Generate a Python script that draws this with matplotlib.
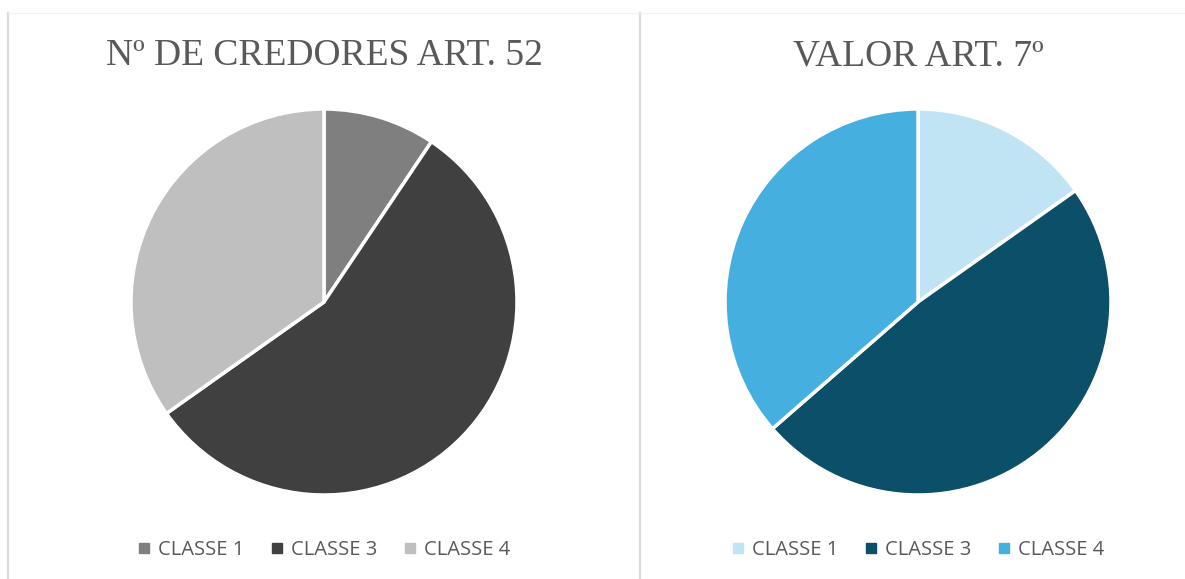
import matplotlib.pyplot as plt
from matplotlib.lines import Line2D

# dados
classes = ["CLASSE 1", "CLASSE 3", "CLASSE 4"]
credores = [9.4, 55.8, 34.8]
valor = [15.2, 48.4, 36.4]

cores_credores = ["#7f7f7f", "#404040", "#bfbfbf"]
cores_valor = ["#c1e4f5", "#0b4f69", "#45afe0"]

W, H = 1185, 579
fig = plt.figure(figsize=(W / 100, H / 100), dpi=100)
fig.patch.set_facecolor("white")

# linhas de separação
for x in [8, 640]:
    fig.add_artist(Line2D([x / W, x / W], [0, 1 - 13 / H], color="#d9d9d9", lw=1.6))
fig.add_artist(Line2D([8 / W, 1], [1 - 13 / H, 1 - 13 / H], color="#f2f2f2", lw=0.8))


def pizza(cx, titulo, valores, cores):
    cy, r = 302, 193
    ax = fig.add_axes([(cx - r) / W, 1 - (cy + r) / H, 2 * r / W, 2 * r / H])
    ax.pie(valores, colors=cores, startangle=90, counterclock=False, radius=1,
           wedgeprops=dict(edgecolor="white", linewidth=2.5))
    ax.set_xlim(-1, 1)
    ax.set_ylim(-1, 1)
    ax.set_aspect("equal")
    ax.axis("off")
    fig.text(cx / W, 1 - 56 / H, titulo, ha="center", va="center",
             fontsize=27, color="#595959", family="Liberation Serif")
    handles = [Line2D([], [], marker="s", ls="", color=c, markersize=7) for c in cores]
    fig.legend(handles, classes, loc="center", bbox_to_anchor=(cx / W, 1 - 550 / H),
               ncol=3, frameon=False, handlelength=0.6, handletextpad=0.4,
               columnspacing=1.3, prop={"family": "Open Sans", "size": 14.5},
               labelcolor="#595959")


pizza(324, "Nº DE CREDORES ART. 52", credores, cores_credores)
pizza(918, "VALOR ART. 7º", valor, cores_valor)

plt.savefig("out.png", dpi=100)
